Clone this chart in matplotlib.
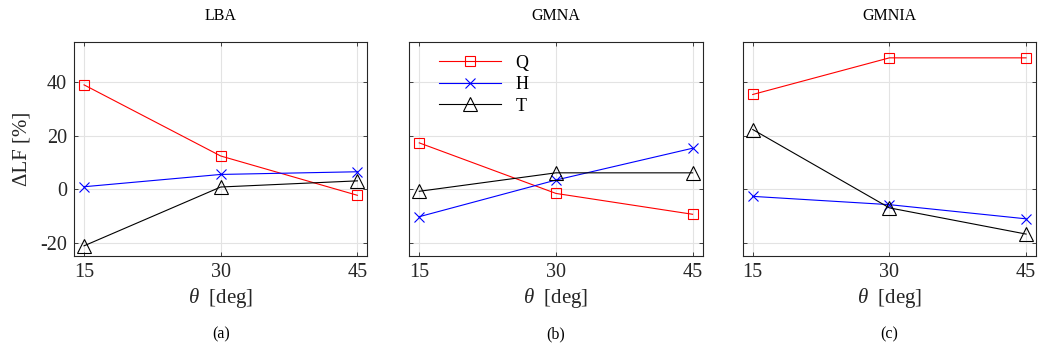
import matplotlib
matplotlib.use("Agg")
import matplotlib.pyplot as plt

plt.rcParams['font.family'] = ['Liberation Serif', 'DejaVu Serif']
plt.rcParams['mathtext.fontset'] = 'custom'
plt.rcParams['mathtext.rm'] = 'Liberation Serif'
plt.rcParams['mathtext.it'] = 'Liberation Serif:italic'
plt.rcParams['axes.unicode_minus'] = False

# data
theta = [15, 30, 45]
titles = ["LBA", "GMNA", "GMNIA"]
letters = ["(a)", "(b)", "(c)"]
Q = [[39.0, 12.4, -2.3], [17.3, -1.6, -9.4], [35.4, 49.1, 49.1]]
H = [[0.9, 5.5, 6.5], [-10.3, 3.4, 15.3], [-2.7, -5.8, -11.1]]
T = [[-21.2, 0.8, 3.1], [-0.8, 6.1, 6.1], [22.3, -7.0, -16.8]]

dark = '#262626'
fig = plt.figure(figsize=(10.44, 3.53), dpi=100)
lefts = [0.0709, 0.392, 0.7114]

for i in range(3):
    ax = fig.add_axes([lefts[i], 0.2748, 0.281, 0.606])
    ax.plot(theta, Q[i], color='red', lw=0.8, marker='s', ms=6.5,
            mfc='none', mew=0.8, label='Q')
    ax.plot(theta, H[i], color='blue', lw=0.8, marker='x', ms=7,
            mew=0.8, label='H')
    ax.plot(theta, T[i], color='black', lw=0.8, marker='^', ms=10,
            mfc='none', mew=0.8, label='T')
    ax.set_xlim(13.9, 46.1)
    ax.set_ylim(-25, 55)
    ax.set_xticks(theta)
    ax.set_yticks([-20, 0, 20, 40])
    ax.grid(True, color='#e3e3e3', lw=0.8)
    ax.set_axisbelow(True)
    ax.tick_params(direction='in', length=3, width=0.6, colors=dark,
                   labelsize=14.5, top=True, right=True, pad=5)
    for s in ax.spines.values():
        s.set_color(dark)
        s.set_linewidth(0.8)
    if i > 0:
        ax.set_yticklabels([])
    else:
        ax.set_ylabel('ΔLF [%]', fontsize=15, color=dark, labelpad=6)
    ax.set_xlabel(r'$\theta$  [deg]', fontsize=15, color=dark, labelpad=3)
    ax.set_title(titles[i], fontsize=11.5, pad=16)
    ax.text(0.5, -0.33, letters[i], transform=ax.transAxes, ha='center',
            va='top', fontsize=11.5)
    if i == 1:
        ax.legend(loc='upper left', frameon=False, fontsize=13,
                  handlelength=3.4, borderaxespad=0.3, labelspacing=0.25,
                  bbox_to_anchor=(0.06, 1.0))

fig.savefig('out.png', dpi=100)
